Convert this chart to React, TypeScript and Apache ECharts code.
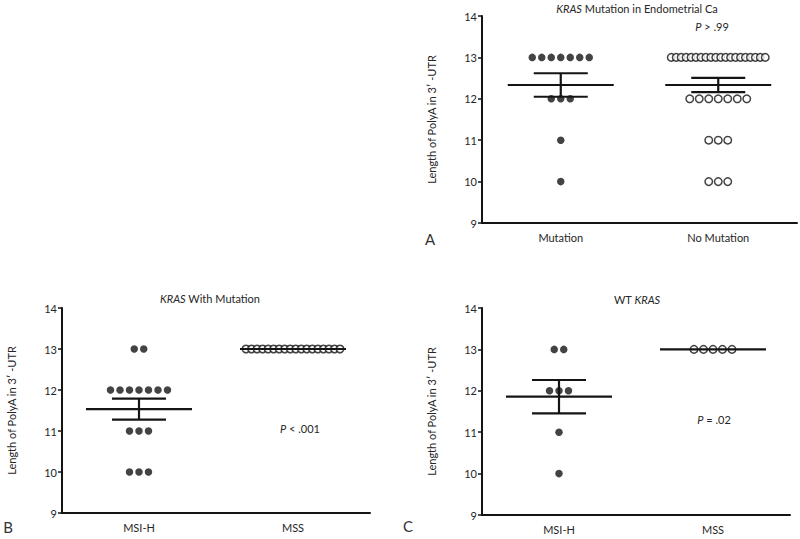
import React, { useRef, useEffect } from "react";
import * as echarts from "echarts";

const FONT = 'Lato, "Open Sans", sans-serif';
const INK = "#141414";
const TXT = "#262626";

// Panel A: KRAS mutation in endometrial Ca
const catsA = ["Mutation", "No Mutation"];
const mutationKRAS = [13, 13, 13, 13, 13, 13, 13, 12, 12, 12, 11, 10];
const noMutationKRAS = [
  13, 13, 13, 13, 13, 13, 13, 13, 13, 13, 13, 13, 13, 13, 13, 13, 13, 13, 13, 13,
  12, 12, 12, 12, 12, 12, 12, 11, 11, 11, 10, 10, 10,
];

// Panel B: KRAS with mutation
const catsB = ["MSI-H", "MSS"];
const mutMSIH = [13, 13, 12, 12, 12, 12, 12, 12, 12, 11, 11, 11, 10, 10, 10];
const mutMSS = [13, 13, 13, 13, 13, 13, 13, 13, 13, 13, 13, 13, 13, 13, 13, 13, 13, 13];

// Panel C: WT KRAS
const catsC = ["MSI-H", "MSS"];
const wtMSIH = [13, 13, 12, 12, 12, 11, 10];
const wtMSS = [13, 13, 13, 13, 13];

const yMin = 9;
const yMax = 14;
const yName = "Length of PolyA in 3\u2032 -UTR";

const titles = [
  "{i|KRAS} Mutation in Endometrial Ca",
  "{i|KRAS} With Mutation",
  "WT {i|KRAS}",
];
const pTexts = ["{i|P} > .99", "{i|P} < .001", "{i|P} = .02"];
const letters = ["A", "B", "C"];

const stats = (arr: number[]) => {
  const n = arr.length;
  const m = arr.reduce((a, b) => a + b, 0) / n;
  const v = arr.reduce((a, b) => a + (b - m) * (b - m), 0) / (n - 1);
  return [m, Math.sqrt(v) / Math.sqrt(n)];
};

const dotItems = (arr: number[], ci: number) => {
  const counts: Record<string, number> = {};
  arr.forEach((v) => (counts[v] = (counts[v] || 0) + 1));
  const items: any[] = [];
  Object.keys(counts).forEach((k) => {
    const n = counts[k];
    const sp = n <= 8 ? 9.5 : 94 / (n - 1);
    for (let j = 0; j < n; j++) {
      const dx = (j - (n - 1) / 2) * sp;
      items.push({ value: [ci, Number(k)], symbolOffset: [dx, 0] });
    }
  });
  return items;
};

export default function App() {
  const ref = useRef<HTMLDivElement>(null);
  useEffect(() => {
    const chart = echarts.init(ref.current!, null, { renderer: "svg" });
    const grids = [
      { left: 482, top: 16, width: 315, height: 207 },
      { left: 62, top: 308, width: 308, height: 205 },
      { left: 482, top: 308, width: 308, height: 207 },
    ];
    const cats = [catsA, catsB, catsC];
    const groups = [
      [mutationKRAS, noMutationKRAS],
      [mutMSIH, mutMSS],
      [wtMSIH, wtMSS],
    ];
    const titlePos = [
      [637, 8],
      [210, 298],
      [637, 299],
    ];
    const pPos = [
      [712, 26],
      [300, 428],
      [714, 419],
    ];
    const letterPos = [
      [430, 239],
      [8, 527],
      [408, 526],
    ];

    const xAxis = grids.map((_, i) => ({
      type: "category",
      gridIndex: i,
      data: cats[i],
      boundaryGap: true,
      axisLine: { lineStyle: { color: INK, width: 2 } },
      axisTick: { alignWithLabel: true, length: 5, lineStyle: { color: INK, width: 2 } },
      axisLabel: { fontFamily: FONT, fontSize: 11, color: TXT, margin: 9 },
      splitLine: { show: false },
    }));
    const yAxis = grids.map((_, i) => ({
      type: "value",
      gridIndex: i,
      min: yMin,
      max: yMax,
      interval: 1,
      axisLine: { show: true, lineStyle: { color: INK, width: 2 } },
      axisTick: { show: true, length: 4, lineStyle: { color: INK, width: 1.5 } },
      axisLabel: { fontFamily: FONT, fontSize: 11, color: TXT, margin: 5 },
      splitLine: { show: false },
      name: yName,
      nameLocation: "middle",
      nameRotate: 90,
      nameGap: 45,
      nameTextStyle: { fontFamily: FONT, fontSize: 11, color: TXT },
    }));

    const series: any[] = [];
    groups.forEach((g, i) => {
      g.forEach((arr, ci) => {
        const filled = ci === 0;
        series.push({
          type: "scatter",
          xAxisIndex: i,
          yAxisIndex: i,
          symbol: "circle",
          symbolSize: filled ? 7.5 : 7.5,
          itemStyle: filled
            ? { color: INK }
            : { color: "#ffffff", borderColor: INK, borderWidth: 1.5 },
          data: dotItems(arr, ci),
          z: 2,
        });
      });
      series.push({
        type: "custom",
        xAxisIndex: i,
        yAxisIndex: i,
        z: 5,
        data: g.map((arr, ci) => {
          const [m, s] = stats(arr);
          return [ci, m, s];
        }),
        renderItem: (params: any, api: any) => {
          const x = api.value(0);
          const m = api.value(1);
          const s = api.value(2);
          const c = api.coord([x, m]);
          const t = api.coord([x, m + s]);
          const b = api.coord([x, m - s]);
          const st = { stroke: INK, lineWidth: 2.2 };
          const children: any[] = [
            { type: "line", shape: { x1: c[0] - 53, y1: c[1], x2: c[0] + 53, y2: c[1] }, style: st },
          ];
          if (s > 0) {
            children.push(
              { type: "line", shape: { x1: c[0], y1: t[1], x2: c[0], y2: b[1] }, style: st },
              { type: "line", shape: { x1: c[0] - 27, y1: t[1], x2: c[0] + 27, y2: t[1] }, style: st },
              { type: "line", shape: { x1: c[0] - 27, y1: b[1], x2: c[0] + 27, y2: b[1] }, style: st }
            );
          }
          return { type: "group", children };
        },
      });
    });

    const rich = { i: { fontStyle: "italic", fontFamily: FONT, fontSize: 11, fill: TXT } };
    const graphic: any[] = [];
    titles.forEach((t, i) => {
      graphic.push({
        type: "text",
        x: titlePos[i][0],
        y: titlePos[i][1],
        style: {
          text: t,
          rich,
          fontFamily: FONT,
          fontSize: 11,
          fill: TXT,
          align: "center",
          verticalAlign: "middle",
        },
      });
      graphic.push({
        type: "text",
        x: pPos[i][0],
        y: pPos[i][1],
        style: {
          text: pTexts[i],
          rich,
          fontFamily: FONT,
          fontSize: 11,
          fill: TXT,
          align: "center",
          verticalAlign: "middle",
        },
      });
      graphic.push({
        type: "text",
        x: letterPos[i][0],
        y: letterPos[i][1],
        style: {
          text: letters[i],
          fontFamily: FONT,
          fontSize: 15,
          fill: "#333",
          align: "center",
          verticalAlign: "middle",
        },
      });
    });

    chart.setOption({
      animation: false,
      backgroundColor: "#ffffff",
      grid: grids,
      xAxis,
      yAxis,
      series,
      graphic,
    });
    return () => chart.dispose();
  }, []);
  return (
    <div
      ref={ref}
      style={{ position: "fixed", left: 0, top: 0, width: 800, height: 539 }}
    />
  );
}
